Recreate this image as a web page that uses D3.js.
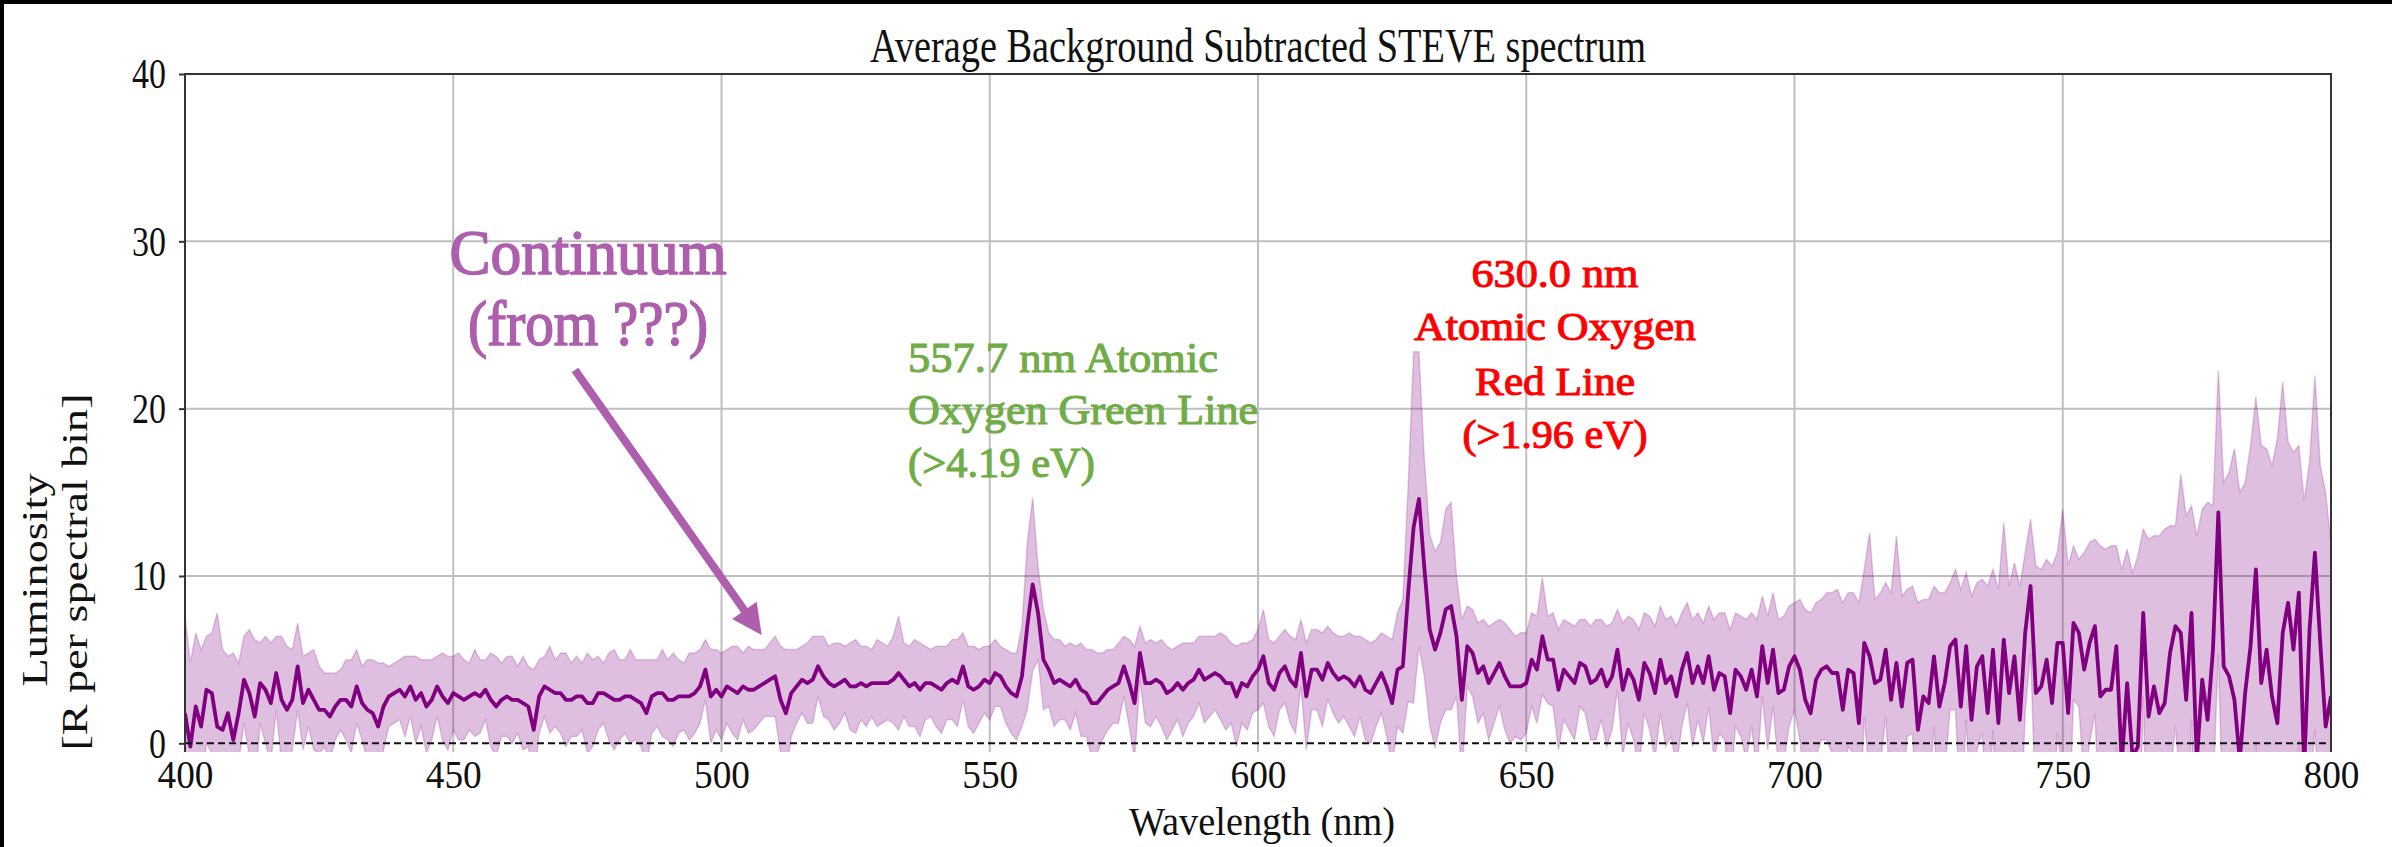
<!DOCTYPE html>
<html><head><meta charset="utf-8">
<script src="https://cdn.jsdelivr.net/npm/d3@7"></script>
<style>body{margin:0;background:#fff;} svg{display:block}</style>
</head><body>
<svg id="chart" width="2392" height="847"></svg>
<script>
// ---------------- data ----------------
const wavelengthStart = 400; // nm, one value per nm
const meanVals = [
1.8,-0.2,2.2,1.0,3.2,3.0,1.0,0.8,1.8,0.2,
1.8,3.8,3.0,1.6,3.6,3.2,2.4,4.2,2.6,2.0,
2.6,4.6,2.4,3.2,2.6,2.0,2.0,1.6,2.2,2.6,
2.6,2.2,3.4,2.4,2.0,1.8,1.0,2.2,2.8,3.0,
3.2,
2.8,3.4,2.6,3.0,2.2,2.6,3.4,2.8,2.4,3.0,
2.8,2.6,2.8,3.0,2.8,3.2,2.6,2.2,2.6,2.8,
2.6,2.6,2.4,2.2,0.8,2.8,3.4,3.2,3.0,3.0,
2.6,2.6,2.8,2.8,2.4,2.4,3.0,3.0,2.8,2.6,
2.6,2.8,2.8,2.6,2.4,1.8,2.8,3.0,3.0,2.6,
2.6,2.8,2.8,2.8,3.0,3.4,4.4,2.8,3.2,2.8,
3.4,3.2,3.0,3.4,3.2,3.2,3.4,3.6,3.8,4.0,
2.6,1.8,3.0,3.4,3.8,3.6,3.8,4.6,4.0,3.6,
3.4,3.6,3.8,3.4,3.4,3.6,3.4,3.6,3.6,3.6,
3.6,3.8,4.2,3.8,3.4,3.6,3.2,3.6,3.6,3.4,
3.2,3.6,3.8,3.6,4.6,3.4,3.2,3.4,3.8,3.6,
4.2,4.0,3.4,3.0,2.8,4.0,7.0,9.5,7.8,5.0,
4.4,3.6,3.8,3.6,3.4,3.8,3.2,3.0,2.4,2.4,
2.8,3.2,3.4,3.6,4.6,3.6,2.4,5.4,3.6,3.6,
3.8,3.6,3.0,3.2,3.6,3.2,3.6,3.8,4.4,3.8,
4.0,4.2,4.0,3.6,3.6,2.8,3.6,3.4,4.0,4.4,
5.2,3.6,3.2,4.2,4.6,3.8,3.4,5.4,2.8,4.4,
4.4,3.8,4.8,4.2,3.8,4.0,3.8,3.4,4.0,3.2,
3.0,3.6,4.2,3.4,2.4,4.4,4.6,9.0,12.9,14.6,
10.5,6.8,5.6,6.6,8.0,8.2,6.4,2.6,5.8,5.4,
4.2,4.6,3.6,4.2,4.8,4.0,3.4,3.4,3.4,3.6,
5.0,4.4,6.4,5.0,5.0,3.2,4.4,4.0,3.6,4.8,
4.6,3.6,3.8,4.4,3.4,4.0,5.6,3.2,4.4,3.8,
2.6,4.8,4.2,3.0,5.0,3.6,4.0,2.8,4.4,5.4,
3.6,4.6,3.6,5.2,3.2,4.2,4.0,1.8,4.4,4.0,
3.2,4.4,2.8,5.8,3.6,5.6,3.0,3.2,4.6,5.2,
4.4,2.6,1.8,3.8,4.4,4.6,4.2,4.2,2.0,4.4,
4.2,1.2,6.0,5.2,3.6,3.8,5.6,2.6,4.8,2.2,
4.8,5.0,0.8,2.8,2.4,5.2,2.2,3.6,5.8,6.2,
2.2,5.8,1.4,4.6,5.2,1.8,5.6,1.2,6.2,3.0,
5.2,1.4,6.6,9.4,3.0,3.4,5.0,2.4,6.0,6.0,
1.8,7.2,6.6,4.4,6.0,7.0,2.8,3.2,3.2,5.8,
-1.2,3.6,-0.8,-0.2,7.8,1.6,3.4,1.8,2.4,5.4,
7.0,6.6,2.6,7.8,-1.0,3.8,1.4,5.6,13.8,4.6,
4.0,2.6,-1.0,3.0,5.8,10.4,3.6,5.6,2.8,1.2,
6.6,8.4,5.6,9.0,-1.5,6.8,11.4,6.0,1.0,2.8
];
const stdVals = [
5.8,5.0,4.4,4.6,3.2,3.6,6.8,4.8,3.4,5.2,
3.0,2.6,3.8,4.6,2.4,3.2,3.6,2.2,3.8,3.8,
3.0,2.6,2.8,2.2,3.0,2.6,2.2,2.6,2.0,1.8,
2.4,2.8,2.2,2.2,3.0,3.2,3.8,2.6,1.8,1.8,
1.8,
2.4,1.8,2.6,2.0,2.8,2.4,1.8,2.6,2.8,2.2,
2.6,2.4,2.0,2.6,2.2,1.8,2.8,3.0,2.2,2.4,
2.6,2.0,2.8,2.4,3.6,2.2,1.8,2.6,2.0,2.4,
2.8,2.2,2.4,2.0,3.0,2.6,2.2,1.8,2.6,3.0,
2.4,2.2,2.8,2.4,2.6,3.2,2.2,2.0,2.6,2.4,
2.8,2.2,2.0,2.6,2.4,2.2,1.8,2.8,2.4,2.6,
2.2,2.6,2.8,2.0,2.6,2.4,2.2,2.0,2.2,2.4,
3.2,3.8,2.6,2.2,2.0,2.4,2.6,1.8,2.4,2.2,
2.6,2.4,2.0,2.6,2.8,2.2,2.4,2.0,2.6,2.4,
2.2,2.6,3.4,2.2,2.4,2.6,2.8,2.2,2.0,2.4,
2.6,2.2,2.4,2.6,2.0,2.4,2.6,2.2,2.0,2.2,
2.0,1.8,2.2,2.4,2.6,3.0,5.0,5.2,2.8,3.0,
2.2,2.6,2.4,2.2,2.6,2.0,2.8,2.6,3.2,3.0,
2.6,2.4,2.2,2.4,1.8,2.6,3.4,1.6,2.4,2.6,
2.2,2.6,2.8,2.4,2.2,2.8,2.4,2.2,2.0,2.6,
2.4,2.2,2.6,2.8,2.4,3.0,2.4,2.6,2.2,2.4,
2.8,2.6,2.8,2.2,2.2,2.6,2.8,2.0,3.2,2.4,
2.4,2.8,2.2,2.4,2.6,2.4,2.8,3.0,2.4,3.0,
3.0,2.6,2.4,3.0,3.8,3.4,4.0,6.5,10.5,8.8,
6.5,5.7,5.9,5.4,6.0,6.2,3.6,4.8,2.4,2.6,
3.0,2.8,3.4,3.0,2.6,3.2,3.4,3.0,3.2,3.0,
2.8,3.2,3.5,2.6,2.8,3.6,3.0,3.2,3.4,2.6,
2.8,3.4,3.6,3.0,3.6,3.2,2.4,4.0,3.2,3.6,
4.2,3.0,3.4,4.0,3.2,3.8,3.6,4.2,3.4,3.0,
3.8,3.2,3.6,3.0,4.2,3.6,3.8,5.0,3.4,3.6,
4.2,3.4,4.6,3.0,4.0,3.4,4.4,4.4,3.6,3.2,
4.2,5.4,6.0,4.6,4.2,4.4,4.8,5.0,6.4,4.6,
4.8,7.2,4.4,7.4,5.0,5.2,4.0,6.4,7.6,6.6,
4.4,4.4,7.6,5.8,6.2,4.2,6.8,5.4,3.8,4.2,
7.0,4.4,7.4,5.0,4.6,7.6,4.8,8.0,7.0,6.4,
5.6,8.0,4.8,4.0,7.6,7.0,6.0,8.2,5.4,8.0,
8.8,4.6,4.4,7.0,6.0,5.2,9.0,8.4,8.6,6.0,
11.6,8.0,11.0,11.4,5.0,10.6,9.0,10.6,10.4,7.6,
6.0,9.5,11.0,6.4,13.4,10.2,13.0,8.6,8.5,11.0,
12.2,15.0,16.0,12.6,12.0,10.3,14.2,12.0,13.8,17.0,
15.0,9.6,11.8,8.8,16.0,10.0,10.6,10.6,14.0,9.2
];
const xTickVals = [400,450,500,550,600,650,700,750,800];
const yTickVals = [0,10,20,30,40];
const titleText = "Average Background Subtracted STEVE spectrum";
const xLabelText = "Wavelength (nm)";
const yLabelLines = ["Luminosity","[R per spectral bin]"];
const annoContinuum = ["Continuum","(from ???)"];
const annoGreen = ["557.7 nm Atomic","Oxygen Green Line","(>4.19 eV)"];
const annoRed = ["630.0 nm","Atomic Oxygen","Red Line","(>1.96 eV)"];

// ---------------- drawing ----------------
const data = meanVals.map((m,i)=>({w: wavelengthStart+i, m, s: stdVals[i]}));
const svg = d3.select("#chart");
const L=185, R=2331, T=74, B=752;
const x = d3.scaleLinear().domain([400,800]).range([L,R]);
const y = d3.scaleLinear().domain([-0.52,40]).range([B,T]);
const serif = "'Liberation Serif','Times New Roman',serif";
const annoFont = "'Liberation Serif',serif";

svg.append("rect").attr("width",2392).attr("height",847).attr("fill","#fff");

svg.append("defs").append("clipPath").attr("id","plotclip")
  .append("rect").attr("x",L).attr("y",T).attr("width",R-L).attr("height",B-T);

// grid
const grid = svg.append("g");
grid.selectAll("line.vx").data(xTickVals.filter(d=>d>400&&d<800)).join("line")
  .attr("x1",d=>x(d)).attr("x2",d=>x(d)).attr("y1",T).attr("y2",B)
  .attr("stroke","#bfbfbf").attr("stroke-width",2);
grid.selectAll("line.hy").data(yTickVals.filter(d=>d>0&&d<40)).join("line")
  .attr("y1",d=>y(d)).attr("y2",d=>y(d)).attr("x1",L).attr("x2",R)
  .attr("stroke","#bfbfbf").attr("stroke-width",2);

const plot = svg.append("g").attr("clip-path","url(#plotclip)");
const area = d3.area().x(d=>x(d.w)).y0(d=>y(d.m-d.s)).y1(d=>y(d.m+d.s));
plot.append("path").datum(data).attr("d",area)
  .attr("fill","#800080").attr("fill-opacity",0.25)
  .attr("stroke","#800080").attr("stroke-opacity",0.2).attr("stroke-width",1.5);
plot.append("path").datum(data)
  .attr("d",d3.line().x(d=>x(d.w)).y(d=>y(d.m)))
  .attr("fill","none").attr("stroke","#800080").attr("stroke-width",3.8).attr("stroke-linejoin","round");
plot.append("line").attr("x1",L).attr("x2",R).attr("y1",y(0)).attr("y2",y(0))
  .attr("stroke","#111").attr("stroke-width",2).attr("stroke-dasharray","7,4");

// spines
svg.append("path").attr("d",`M${L},${B}V${T}H${R}V${B}`)
  .attr("fill","none").attr("stroke","#333").attr("stroke-width",2);

function squeeze(sel, ratio){
  sel.each(function(){
    const w=this.getComputedTextLength();
    d3.select(this).attr("textLength",w*ratio).attr("lengthAdjust","spacingAndGlyphs");
  });
}
function fit(sel,len){ return sel.attr("textLength",len).attr("lengthAdjust","spacingAndGlyphs"); }

// y axis
const ya = svg.append("g").attr("transform",`translate(${L},0)`)
  .call(d3.axisLeft(y).tickValues(yTickVals).tickSize(6).tickPadding(13).tickFormat(d3.format("d")));
ya.select(".domain").remove();
ya.selectAll(".tick line").attr("stroke","#333").attr("stroke-width",2);
ya.selectAll(".tick text").attr("font-family",serif).attr("font-size",43).attr("fill","#111");
squeeze(ya.selectAll(".tick text"),0.79);

// x axis
const xa = svg.append("g").attr("transform",`translate(0,${B})`)
  .call(d3.axisBottom(x).tickValues(xTickVals).tickSize(0).tickFormat(d3.format("d")));
xa.select(".domain").remove();
xa.selectAll(".tick text").attr("font-family",serif).attr("font-size",41).attr("fill","#111")
  .attr("y",36).attr("dy",0);
squeeze(xa.selectAll(".tick text"),0.91);

// title & labels
fit(svg.append("text").attr("x",(L+R)/2).attr("y",62).attr("text-anchor","middle")
  .attr("font-family",serif).attr("font-size",49).attr("fill","#111").text(titleText),776);
fit(svg.append("text").attr("x",1262).attr("y",835).attr("text-anchor","middle")
  .attr("font-family",serif).attr("font-size",40).attr("fill","#111").text(xLabelText),266);

// y label: two rotated lines (glyphs narrow across, stretched along the line)
const ylPos = [[47,580,213],[87,572,357]];
yLabelLines.forEach((t,i)=>{
  fit(svg.append("text").attr("transform",`translate(${ylPos[i][0]},${ylPos[i][1]}) rotate(-90)`)
    .attr("text-anchor","middle").attr("font-family",serif).attr("font-size",36).attr("fill","#111")
    .text(t), ylPos[i][2]);
});

// annotations
const purple="#ad5ead", green="#70ad47", red="#ff0000";
function anno(lines, xs, ys, lens, size, color, anchor){
  lines.forEach((t,i)=>fit(svg.append("text").attr("x",xs).attr("y",ys[i])
    .attr("text-anchor",anchor).attr("font-family",annoFont).attr("font-size",size)
    .attr("fill",color).attr("stroke",color).attr("stroke-width",size>50?1.6:1.1)
    .attr("paint-order","stroke").text(t),lens[i]));
}
anno(annoContinuum, 588, [274,345], [277,240], 64, purple, "middle");
anno(annoGreen, 908, [371.7,424,476.7], [310,350,187], 43, green, "start");
anno(annoRed, 1555, [286.7,340,395,448.3], [167,282,160,185], 40, red, "middle");

// arrow
const a0=[575,370], a1=[761.7,635];
const ang=Math.atan2(a1[1]-a0[1],a1[0]-a0[0]);
const headL=30, headW=15;
const bx=a1[0]-headL*Math.cos(ang), by=a1[1]-headL*Math.sin(ang);
svg.append("line").attr("x1",a0[0]).attr("y1",a0[1]).attr("x2",bx+4*Math.cos(ang)).attr("y2",by+4*Math.sin(ang))
  .attr("stroke",purple).attr("stroke-width",8);
svg.append("path").attr("d",`M${a1[0]},${a1[1]}L${bx-headW*Math.sin(ang)},${by+headW*Math.cos(ang)}L${bx+headW*Math.sin(ang)},${by-headW*Math.cos(ang)}Z`)
  .attr("fill",purple);

// frame edges
svg.append("rect").attr("x",0).attr("y",0).attr("width",2392).attr("height",4).attr("fill","#000");
svg.append("rect").attr("x",0).attr("y",0).attr("width",4).attr("height",847).attr("fill","#000");
</script>
</body></html>
